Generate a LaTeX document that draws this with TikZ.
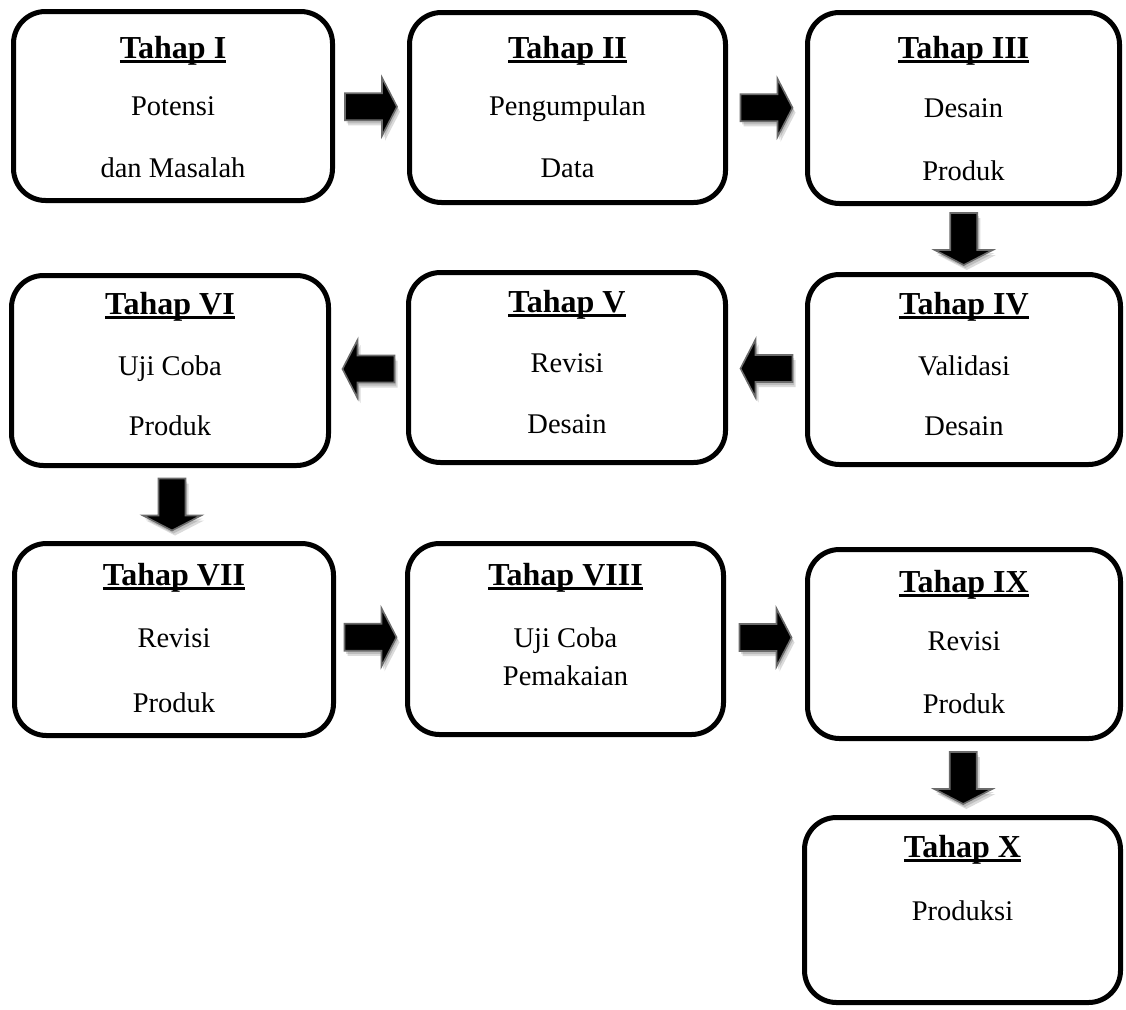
\documentclass[tikz,border=0pt]{standalone}
\usepackage{fontspec}
\setmainfont{Liberation Serif}
\usetikzlibrary{calc}
\newsavebox\myulbox
\newcommand\myul[1]{\sbox\myulbox{#1}\rlap{\vrule height -1.8pt depth 4.8pt width \wd\myulbox}\usebox\myulbox}
\tikzset{
  stagebox/.style={draw, line width=5pt, rounded corners=32pt, fill=white, inner sep=0pt},
  ttl/.style={font=\fontsize{32}{38}\selectfont\bfseries, inner sep=0pt, anchor=base},
  txt/.style={font=\fontsize{28.5}{34}\selectfont, inner sep=0pt, anchor=base},
  barrow/.style={fill=black, draw=black!58, line width=1.6pt, line join=miter},
  bshadow/.style={fill=black, opacity=0.14, draw=none}
}
\newcommand\arrowshape[1]{\path[#1] (-26,-13.5) -- (11,-13.5) -- (11,-29) -- (26,0) -- (11,29) -- (11,13.5) -- (-26,13.5) -- cycle;}
\newcommand\blockarrow[3]{%
  \coordinate (#1) at #2;
  \arrowshape{bshadow, shift={(#1)}, xshift=1.5pt, yshift=-3pt, rotate=#3}
  \arrowshape{bshadow, shift={(#1)}, xshift=3pt, yshift=-5pt, rotate=#3}
  \arrowshape{barrow, shift={(#1)}, rotate=#3}}
\begin{document}
\begin{tikzpicture}[x=1pt, y=-1pt]
\useasboundingbox (0,0) rectangle (1126,1009);
% boxes
\node[stagebox, minimum width=319pt, minimum height=189pt] (b1) at (173,106) {};
\node[stagebox, minimum width=316pt, minimum height=190pt] (b2) at (567.5,107.5) {};
\node[stagebox, minimum width=312pt, minimum height=191pt] (b3) at (963.5,108) {};
\node[stagebox, minimum width=313pt, minimum height=190pt] (b4) at (964,369.5) {};
\node[stagebox, minimum width=317pt, minimum height=190pt] (b5) at (567,367.5) {};
\node[stagebox, minimum width=317pt, minimum height=190pt] (b6) at (170,370.5) {};
\node[stagebox, minimum width=319pt, minimum height=192pt] (b7) at (174,639.5) {};
\node[stagebox, minimum width=316pt, minimum height=191pt] (b8) at (565.5,639) {};
\node[stagebox, minimum width=313pt, minimum height=189pt] (b9) at (964,644) {};
\node[stagebox, minimum width=316pt, minimum height=185pt] (b10) at (962.5,910) {};
% texts
\node[ttl] (t1) at (173,58) {\myul{Tahap I}};
\node[txt] (t1a) at (173,115) {Potensi};
\node[txt] (t1b) at (173,177) {dan Masalah};
\node[ttl] (t2) at (567.5,58) {\myul{Tahap II}};
\node[txt] (t2a) at (567.5,115) {Pengumpulan};
\node[txt] (t2b) at (567.5,177) {Data};
\node[ttl] (t3) at (963.5,58) {\myul{Tahap III}};
\node[txt] (t3a) at (963.5,117) {Desain};
\node[txt] (t3b) at (963.5,180) {Produk};
\node[ttl] (t4) at (964,314) {\myul{Tahap IV}};
\node[txt] (t4a) at (964,375) {Validasi};
\node[txt] (t4b) at (964,435) {Desain};
\node[ttl] (t5) at (567,312) {\myul{Tahap V}};
\node[txt] (t5a) at (567,372) {Revisi};
\node[txt] (t5b) at (567,433) {Desain};
\node[ttl] (t6) at (170,314) {\myul{Tahap VI}};
\node[txt] (t6a) at (170,375) {Uji Coba};
\node[txt] (t6b) at (170,435) {Produk};
\node[ttl] (t7) at (174,585) {\myul{Tahap VII}};
\node[txt] (t7a) at (174,647) {Revisi};
\node[txt] (t7b) at (174,712) {Produk};
\node[ttl] (t8) at (565.5,585) {\myul{Tahap VIII}};
\node[txt] (t8a) at (565.5,647) {Uji Coba};
\node[txt] (t8b) at (565.5,685) {Pemakaian};
\node[ttl] (t9) at (964,592) {\myul{Tahap IX}};
\node[txt] (t9a) at (964,650) {Revisi};
\node[txt] (t9b) at (964,713) {Produk};
\node[ttl] (t10) at (962.5,857) {\myul{Tahap X}};
\node[txt] (t10a) at (962.5,920) {Produksi};
% block arrows
\blockarrow{a12}{($(b1.east)!0.5!(b2.west)$)}{0}
\blockarrow{a23}{($(b2.east)!0.5!(b3.west)$)}{0}
\blockarrow{a34}{($(b3.south)!0.5!(b4.north)$)}{-90}
\blockarrow{a45}{($(b4.west)!0.5!(b5.east)$)}{180}
\blockarrow{a56}{($(b5.west)!0.5!(b6.east)$)}{180}
\blockarrow{a67}{($(b6.south)!0.5!(b7.north)$)}{-90}
\blockarrow{a78}{($(b7.east)!0.5!(b8.west)+(0,-2)$)}{0}
\blockarrow{a89}{($(b8.east)!0.5!(b9.west)+(0,-4)$)}{0}
\blockarrow{a910}{($(b9.south)!0.5!(b10.north)$)}{-90}
\end{tikzpicture}
\end{document}
